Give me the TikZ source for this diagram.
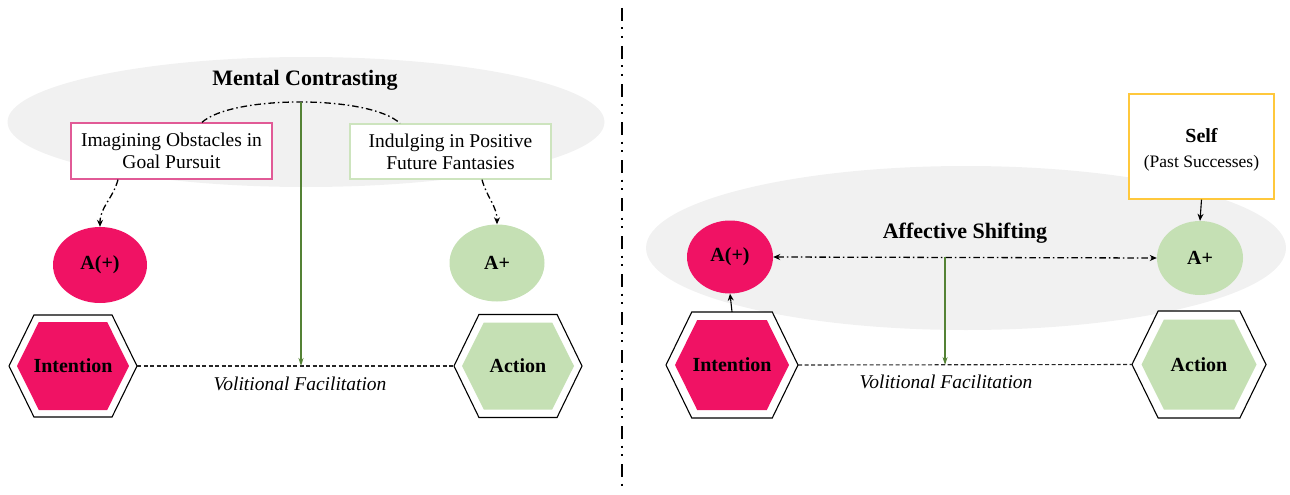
\documentclass[tikz,border=0pt]{standalone}
\usepackage{fontspec}
\setmainfont{Liberation Serif}
\usetikzlibrary{arrows.meta,shapes.geometric,calc}
\definecolor{crimson}{RGB}{240,18,100}
\definecolor{lgreen}{RGB}{197,224,180}
\definecolor{bggrey}{RGB}{241,241,241}
\definecolor{dgreen}{RGB}{84,130,53}
\definecolor{pinkb}{RGB}{225,90,150}
\definecolor{greenb}{RGB}{205,228,190}
\definecolor{yellowb}{RGB}{255,200,60}
% cx, cy, half width, half height, style
\newcommand{\hexshape}[5]{%
  \path[#5] ({#1-#3},#2) -- ({#1-0.61*#3},{#2-#4}) -- ({#1+0.61*#3},{#2-#4})
    -- ({#1+#3},#2) -- ({#1+0.61*#3},{#2+#4}) -- ({#1-0.61*#3},{#2+#4}) -- cycle;}
\begin{document}
\begin{tikzpicture}[x=1pt,y=-1pt,
  cloud/.style={ellipse, fill=bggrey, inner sep=0pt},
  titletext/.style={font=\fontsize{22}{26}\selectfont\bfseries},
  anode/.style={ellipse, inner sep=0pt, font=\fontsize{20}{24}\selectfont\bfseries},
  hexlabel/.style={rectangle, inner sep=0pt, font=\fontsize{20}{24}\selectfont\bfseries},
  hexout/.style={draw=black, line width=1.1pt, fill=white},
  txtbox/.style={rectangle, fill=white, line width=1.3pt, align=center, inner sep=0pt,
    font=\fontsize{19.5}{22}\selectfont},
  dashdot/.style={line width=1.3pt, dash pattern=on 6.5pt off 3pt on 1.5pt off 3pt},
  tipend/.style={-{Stealth[length=7pt,width=6pt]}},
  gline/.style={draw=dgreen, line width=1.3pt, -{Stealth[length=8pt,width=5pt]}},
  vfline/.style={line width=1.1pt, dash pattern=on 4pt off 2.5pt, draw=black!85},
  vflabel/.style={font=\fontsize{19.5}{22}\selectfont\itshape, inner sep=0pt}
]
\useasboundingbox (0,0) rectangle (1290,495);

% ---------------- left panel ----------------
\node[cloud, minimum width=597pt, minimum height=130pt] (mcCloud) at (306,122) {};
\node[titletext] (mcTitle) at (305,80) {Mental Contrasting};
\node[txtbox, draw=pinkb, minimum width=201pt, minimum height=56pt] (obst) at (171.5,151) {Imagining Obstacles in\\Goal Pursuit};
\node[txtbox, draw=greenb, minimum width=201pt, minimum height=55pt] (fant) at (450.5,151.5) {Indulging in Positive\\Future Fantasies};

\draw[dashdot] ([xshift=30.5pt]obst.north) .. controls (232,95) and (370,95) .. ([xshift=-50.5pt]fant.north)
  node[pos=0.5, coordinate] (arcMid) {};

\node[anode, fill=crimson, minimum width=94pt, minimum height=76pt] (aposL) at (100,265) {A(+)};
\node[anode, fill=lgreen, minimum width=95pt, minimum height=77pt] (aL) at (497,263) {A+};

\draw[dashdot, tipend] ([xshift=-53.5pt]obst.south) to[out=-105, in=90] (aposL.north);
\draw[dashdot, tipend] ([xshift=31.5pt]fant.south) to[out=-75, in=90] (aL.north);

\hexshape{73}{366}{64}{51}{hexout}
\hexshape{73}{366}{56}{44}{fill=crimson}
\node[hexlabel, minimum width=128pt, minimum height=102pt] (intL) at (73,366) {Intention};
\hexshape{518}{366}{64}{51.5}{hexout}
\hexshape{518}{366}{56}{43.5}{fill=lgreen}
\node[hexlabel, minimum width=128pt, minimum height=103pt] (actL) at (518,366) {Action};

\draw[vfline] (intL.east) -- (actL.west)
  node[midway, yshift=-18pt, xshift=4.5pt, vflabel] (vfL) {Volitional Facilitation};
\draw[gline] (arcMid) -- (arcMid |- intL.east);

% ---------------- divider ----------------
\coordinate (divTop) at (622,8);
\coordinate (divBot) at (622,490);
\draw[line width=2pt, dash pattern=on 13pt off 6.5pt on 2pt off 6.5pt on 2pt off 8pt] (divTop) -- (divBot);

% ---------------- right panel ----------------
\node[cloud, minimum width=640pt, minimum height=164pt] (asCloud) at (966,248) {};
\node[titletext] (asTitle) at (965,233) {Affective Shifting};
\node[txtbox, draw=yellowb, minimum width=145pt, minimum height=105pt] (self) at (1201.5,146.5) {};
\node[align=center, inner sep=0pt, font=\fontsize{17.5}{25}\selectfont] (selfText) at ([yshift=-3pt]self.center)
  {{\fontsize{20}{25}\selectfont\bfseries Self}\\(Past Successes)};

\node[anode, fill=crimson, minimum width=86pt, minimum height=73pt] (aposR) at (730,257) {A(+)};
\node[anode, fill=lgreen, minimum width=86pt, minimum height=74pt] (aR) at (1200,258) {A+};

\hexshape{732}{365}{66}{53}{hexout}
\hexshape{732}{365}{57}{45}{fill=crimson}
\node[hexlabel, minimum width=132pt, minimum height=106pt] (intR) at (732,365) {Intention};
\hexshape{1199}{364.5}{67}{53.5}{hexout}
\hexshape{1199}{364.5}{57.5}{45}{fill=lgreen}
\node[hexlabel, minimum width=134pt, minimum height=107pt] (actR) at (1199,364.5) {Action};

\draw[dashdot, {Stealth[length=7pt,width=6pt]}-{Stealth[length=7pt,width=6pt]}] (aposR.east) -- (aR.west)
  node[pos=0.448, coordinate] (asMid) {};
\draw[line width=1.1pt, tipend] (intR.north) -- (aposR.south);
\draw[line width=1.1pt, tipend] (self.south) -- (aR.north);

\draw[vfline] (intR.east) -- (actR.west)
  node[pos=0.5, yshift=-17pt, xshift=-19pt, vflabel] (vfR) {Volitional Facilitation};
\draw[gline] (asMid) -- (asMid |- intR.east);
\end{tikzpicture}
\end{document}
